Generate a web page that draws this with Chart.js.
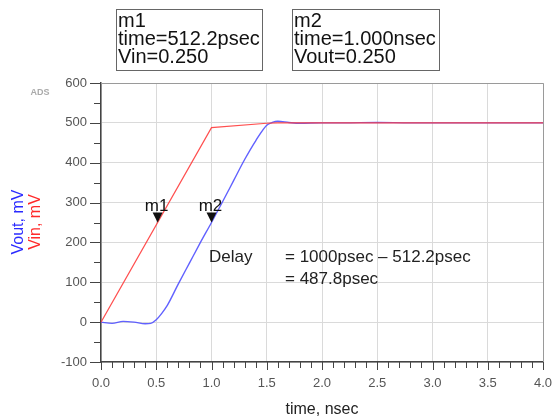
<!DOCTYPE html>
<html>
<head>
<meta charset="utf-8">
<script src="https://cdn.jsdelivr.net/npm/chart.js@4.4.0/dist/chart.umd.min.js"></script>
<style>
  html, body { margin: 0; padding: 0; background: #fff; }
  #wrap { width: 558px; height: 418px; position: relative; }
</style>
</head>
<body>
<div id="wrap"><canvas id="tran"></canvas></div>
<script>
    /* --------------- Transient data (time in nsec, voltage in mV) --------------------- */
    const vinTime = [0, 1.0, 1.5, 1.6, 4.0];
    const vinMv = [0, 488, 499, 500, 500];

    const voutTime = [0, 0.1, 0.2, 0.3, 0.4, 0.45, 0.5, 0.55, 0.6, 0.7, 0.8, 0.9, 1.0, 1.1, 1.2, 1.3, 1.4, 1.5, 1.55, 1.6, 1.7, 1.8, 2.0, 2.2, 2.5, 2.8, 3.0, 3.5, 4.0];
    const voutMv = [0, -3, 2, 0, -4, -3, 6, 22, 42, 96, 148, 200, 250, 302, 355, 408, 455, 494, 501, 504, 501, 499, 500, 500, 501, 500, 500, 500, 500];

    /* --------------- Markers --------------------- */
    const markerNames = ["m1", "m2"];
    const markerTime = [0.5122, 1.0];
    const markerMv = [250, 250];
    const markerBoxes = [
      ["m1", "time=512.2psec", "Vin=0.250"],
      ["m2", "time=1.000nsec", "Vout=0.250"],
    ];

    const toXY = (xs, ys) => xs.map((x, i) => ({ x: x, y: ys[i] }));

    /* --------------- Extra drawing: frame, minor ticks, markers, notes --------------------- */
    const adsPlugin = {
      id: "adsExtras",
      afterDraw(chart) {
        const ctx = chart.ctx;
        const a = chart.chartArea;
        const xs = chart.scales.x;
        const ys = chart.scales.y;
        ctx.save();

        // top / right frame
        ctx.strokeStyle = "#9a9a9a";
        ctx.lineWidth = 1;
        ctx.beginPath();
        ctx.moveTo(a.left, a.top + 0.5);
        ctx.lineTo(a.right + 0.5, a.top + 0.5);
        ctx.lineTo(a.right + 0.5, a.bottom);
        ctx.stroke();

        // tick marks
        ctx.strokeStyle = "#444";
        ctx.beginPath();
        for (let t = 0; t <= 40; t++) {
          const px = Math.round(xs.getPixelForValue(t / 10)) + 0.5;
          const len = t % 5 === 0 ? 8 : 6;
          ctx.moveTo(px, a.bottom);
          ctx.lineTo(px, a.bottom + len);
        }
        for (let v = -100; v <= 600; v += 50) {
          const py = Math.round(ys.getPixelForValue(v)) + 0.5;
          const len = v % 100 === 0 ? 11 : 7;
          ctx.moveTo(a.left - len, py);
          ctx.lineTo(a.left, py);
        }
        ctx.stroke();

        // marker triangles and names
        ctx.fillStyle = "#111";
        ctx.font = "17px 'Liberation Sans', Arial, sans-serif";
        ctx.textAlign = "center";
        ctx.textBaseline = "alphabetic";
        markerNames.forEach((name, i) => {
          const px = xs.getPixelForValue(markerTime[i]);
          const py = ys.getPixelForValue(markerMv[i]);
          ctx.beginPath();
          ctx.moveTo(px, py);
          ctx.lineTo(px - 5, py - 10);
          ctx.lineTo(px + 5, py - 10);
          ctx.closePath();
          ctx.fill();
          ctx.fillText(name, px - 1, py - 12);
        });

        // marker readout boxes
        const boxLeft = [116, 292];
        const boxRight = [262, 439];
        ctx.textAlign = "left";
        ctx.font = "20px 'Liberation Sans', Arial, sans-serif";
        markerBoxes.forEach((lines, i) => {
          ctx.fillStyle = "#fff";
          ctx.fillRect(boxLeft[i], 9.5, boxRight[i] - boxLeft[i], 61);
          ctx.strokeStyle = "#666";
          ctx.lineWidth = 1;
          ctx.strokeRect(boxLeft[i] + 0.5, 9.5, boxRight[i] - boxLeft[i], 61);
          ctx.fillStyle = "#111";
          lines.forEach((ln, j) => ctx.fillText(ln, boxLeft[i] + 2, 27 + j * 18));
        });

        // delay note
        ctx.fillStyle = "#222";
        ctx.font = "17px 'Liberation Sans', Arial, sans-serif";
        ctx.fillText("Delay", 209, 262);
        ctx.fillText("= 1000psec \u2013 512.2psec", 285, 262);
        ctx.fillText("= 487.8psec", 285, 284);

        // y titles, two colours
        ctx.font = "16px 'Liberation Sans', Arial, sans-serif";
        ctx.textAlign = "center";
        ctx.textBaseline = "middle";
        ctx.translate(19, 222);
        ctx.rotate(-Math.PI / 2);
        ctx.fillStyle = "#2a2aff";
        ctx.fillText("Vout, mV", 0, 0);
        ctx.fillStyle = "#ff2a2a";
        ctx.fillText("Vin, mV", 0, 17);
        ctx.setTransform(1, 0, 0, 1, 0, 0);

        // x title
        ctx.fillStyle = "#222";
        ctx.fillText("time, nsec", (a.left + a.right) / 2, 410);

        // tool tag
        ctx.fillStyle = "#aaa";
        ctx.font = "bold 9px 'Liberation Sans', Arial, sans-serif";
        ctx.fillText("ADS", 40, 93);

        ctx.restore();
      },
    };

    /* --------------- Chart --------------------- */
    let tranChart = new Chart(document.getElementById("tran"), {
      type: "scatter",
      plugins: [adsPlugin],
      data: {
        datasets: [
          {
            label: "Vin",
            data: toXY(vinTime, vinMv),
            showLine: true,
            borderColor: "rgba(255, 60, 60, 0.9)",
            borderWidth: 1.2,
            pointRadius: 0,
          },
          {
            label: "Vout",
            data: toXY(voutTime, voutMv),
            showLine: true,
            borderColor: "rgba(80, 80, 255, 0.9)",
            borderWidth: 1.4,
            pointRadius: 0,
            cubicInterpolationMode: "monotone",
          },
        ],
      },
      options: {
        responsive: true,
        maintainAspectRatio: false,
        animation: false,
        layout: { padding: { left: 0, top: 83, right: 15, bottom: 0 } },
        plugins: {
          legend: { display: false },
          tooltip: { enabled: false },
        },
        scales: {
          x: {
            type: "linear",
            min: 0,
            max: 4,
            afterFit: (s) => {
              s.height = 56;
              s.paddingLeft = 0;
              s.paddingRight = 0;
            },
            ticks: {
              stepSize: 0.5,
              padding: 14,
              color: "#555",
              font: { family: "'Liberation Sans', Arial, sans-serif", size: 13 },
              callback: (v) => v.toFixed(1),
              maxRotation: 0,
              autoSkip: false,
            },
            grid: { color: "#dadada", drawTicks: false },
            border: { color: "#444", width: 1.5 },
          },
          y: {
            min: -100,
            max: 600,
            afterFit: (s) => {
              s.width = 101;
              s.paddingTop = 0;
              s.paddingBottom = 0;
            },
            ticks: {
              stepSize: 100,
              padding: 14,
              color: "#555",
              font: { family: "'Liberation Sans', Arial, sans-serif", size: 13 },
            },
            grid: { color: "#dadada", drawTicks: false },
            border: { color: "#444", width: 1.5 },
          },
        },
      },
    });
</script>
</body>
</html>
